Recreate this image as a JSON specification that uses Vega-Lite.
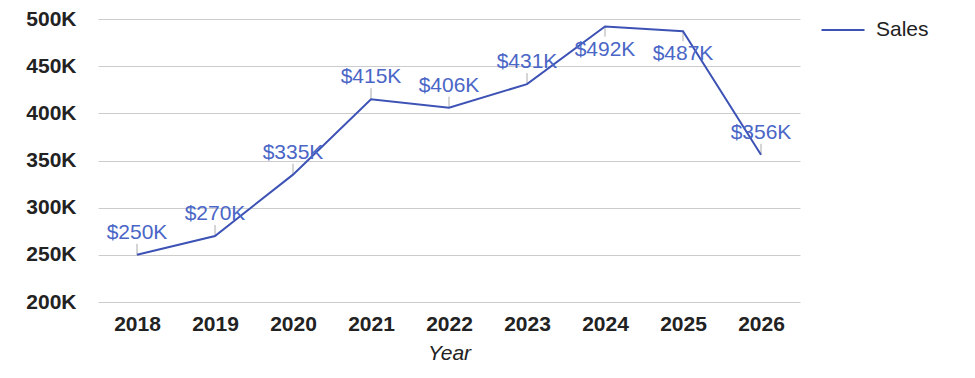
{
  "$schema": "https://vega.github.io/schema/vega-lite/v6.json",
  "width": 702,
  "height": 283,
  "autosize": {"type": "none"},
  "padding": {"left": 98, "top": 19, "right": 175, "bottom": 76},
  "background": "white",
  "config": {
    "font": "Liberation Sans",
    "view": {"stroke": null}
  },
  "data": {
    "values": [
      {"Year": "2018", "Sales": 250},
      {"Year": "2019", "Sales": 270},
      {"Year": "2020", "Sales": 335},
      {"Year": "2021", "Sales": 415},
      {"Year": "2022", "Sales": 406},
      {"Year": "2023", "Sales": 431},
      {"Year": "2024", "Sales": 492},
      {"Year": "2025", "Sales": 487},
      {"Year": "2026", "Sales": 356}
    ]
  },
  "transform": [{"calculate": "'$' + datum.Sales + 'K'", "as": "label"}],
  "encoding": {
    "x": {
      "field": "Year", "type": "ordinal",
      "scale": {"type": "point", "padding": 0.5},
      "axis": {
        "title": "Year", "titleFont": "Liberation Sans", "titleFontStyle": "italic", "titleFontWeight": "normal",
        "titleFontSize": 21, "titleColor": "#222", "titlePadding": 8,
        "labelAngle": 0, "labelFontSize": 21, "labelFontWeight": "bold", "labelColor": "#222", "labelPadding": 11,
        "domain": false, "ticks": false, "grid": false
      }
    },
    "y": {
      "field": "Sales", "type": "quantitative",
      "scale": {"domain": [200, 500], "nice": false, "zero": false},
      "axis": {
        "title": null, "values": [200, 250, 300, 350, 400, 450, 500],
        "labelExpr": "datum.value + 'K'",
        "labelFontSize": 21, "labelFontWeight": "bold", "labelColor": "#222", "labelPadding": 22,
        "domain": false, "ticks": false, "grid": true, "gridColor": "#cccccc", "gridWidth": 1
      }
    }
  },
  "layer": [
    {
      "transform": [{"filter": "datum.Sales < 470"}],
      "mark": {"type": "rule", "color": "#aaaaaa", "strokeWidth": 1, "y2Offset": -11},
      "encoding": {"y2": {"field": "Sales"}}
    },
    {
      "transform": [{"filter": "datum.Sales >= 470"}],
      "mark": {"type": "rule", "color": "#aaaaaa", "strokeWidth": 1, "y2Offset": 10},
      "encoding": {"y2": {"field": "Sales"}}
    },
    {
      "mark": {"type": "line", "strokeWidth": 2},
      "encoding": {
        "color": {
          "datum": "Sales", "type": "nominal",
          "scale": {"range": ["#3d52b5"]},
          "legend": {
            "title": null, "orient": "none", "legendX": 722, "legendY": -12,
            "symbolType": "stroke", "symbolSize": 1850, "symbolStrokeWidth": 2,
            "labelFontSize": 21, "labelColor": "#222", "labelOffset": 10
          }
        }
      }
    },
    {
      "transform": [{"filter": "datum.Sales < 470"}],
      "mark": {"type": "text", "baseline": "alphabetic", "align": "center", "dy": -16, "fontSize": 21, "color": "#4a66c6"},
      "encoding": {"text": {"field": "label"}}
    },
    {
      "transform": [{"filter": "datum.Sales >= 470"}],
      "mark": {"type": "text", "baseline": "alphabetic", "align": "center", "dy": 29, "fontSize": 21, "color": "#4a66c6"},
      "encoding": {"text": {"field": "label"}}
    }
  ]
}
